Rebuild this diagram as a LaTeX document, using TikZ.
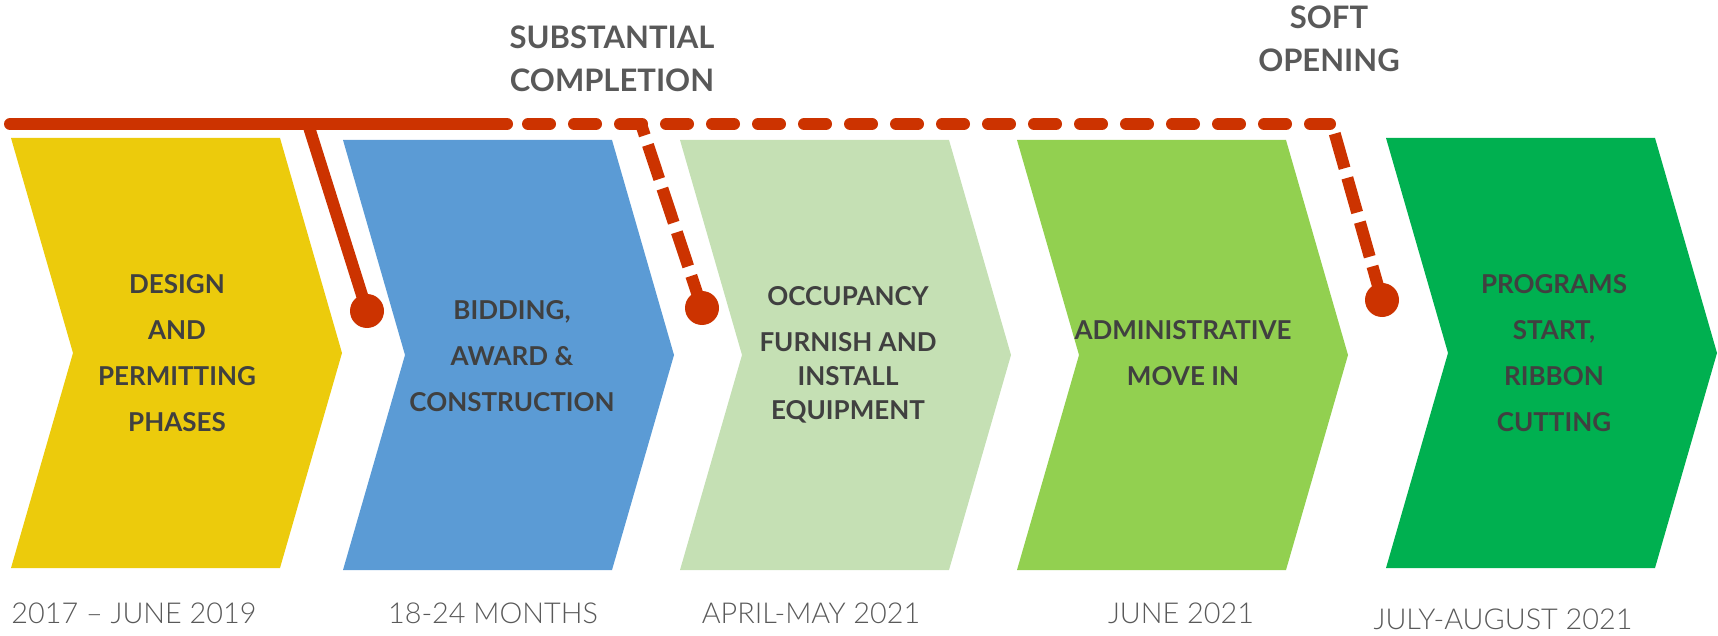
\documentclass[tikz,border=0pt]{standalone}
\usepackage{fontspec}
\setmainfont{Lato}
\newfontfamily\lightfont{Lato Light}

\definecolor{timered}{RGB}{204,51,0}
\definecolor{phaseyellow}{RGB}{236,203,12}
\definecolor{phaseblue}{RGB}{91,155,213}
\definecolor{phasemint}{RGB}{197,224,180}
\definecolor{phaselime}{RGB}{146,208,80}
\definecolor{phasegreen}{RGB}{0,176,80}
\definecolor{boxtext}{RGB}{64,64,64}
\definecolor{labeltext}{RGB}{89,89,89}

\begin{document}
\begin{tikzpicture}[x=0.5pt, y=-0.5pt,
    line/.style={timered, line width=6pt},
    dashline/.style={line, line cap=round, dash pattern=on 11pt off 12pt},
    drop/.style={line, dash pattern=on 18pt off 5pt},
    dot/.style={circle, fill=timered, inner sep=0pt, minimum size=17pt},
    phase/.style={text=boxtext, align=center, font=\bfseries\fontsize{13}{23}\selectfont},
    milestone/.style={text=labeltext, align=center, font=\bfseries\fontsize{15.5}{21.5}\selectfont},
    when/.style={text=labeltext, font=\lightfont\fontsize{14.4}{18}\selectfont}]
\useasboundingbox (0,0) rectangle (1718,636);

\foreach \x/\y/\c in {11/138/phaseyellow, 343/140/phaseblue, 680/140/phasemint,
                      1017/140/phaselime, 1386/138/phasegreen}
  \fill[\c] (\x,\y) -- ++(269,0) -- ++(62,215) -- ++(-62,215) -- ++(-269,0) -- ++(62,-215) -- cycle;

\node[phase] (design) at (177,353) {DESIGN\\AND\\PERMITTING\\PHASES};
\node[phase] (bidding) at (512,356) {BIDDING,\\AWARD \&\\CONSTRUCTION};
\node[phase, font=\bfseries\fontsize{13}{17}\selectfont] (occupancy) at (848,355)
  {OCCUPANCY\\[6pt]FURNISH AND\\INSTALL\\EQUIPMENT};
\node[phase] (movein) at (1183,353) {ADMINISTRATIVE\\MOVE IN};
\node[phase] (programs) at (1554,353) {PROGRAMS\\START,\\RIBBON\\CUTTING};

\node[milestone] (substantial) at (612,59) {SUBSTANTIAL\\COMPLETION};
\node[milestone] (soft) at (1329,39) {SOFT\\OPENING};

\node[when] (design date) at (134,613) {2017 – JUNE 2019};
\node[when] (bidding date) at (493,613) {18-24 MONTHS};
\node[when] (occupancy date) at (811,613) {APRIL-MAY 2021};
\node[when] (movein date) at (1181,613) {JUNE 2021};
\node[when] (programs date) at (1503,619) {JULY-AUGUST 2021};

% timeline and the drops to each milestone
\coordinate (start) at (10,124);
\coordinate (solid end) at (507,124);
\coordinate (dash start) at (528,124);
\coordinate (end) at (1330,124);
\coordinate (drop1) at (308,124);
\coordinate (drop2) at (641,124);
\coordinate (drop3) at (1332,124);
\node[dot] (d1) at (367,311) {};
\node[dot] (d2) at (702,308) {};
\node[dot] (d3) at (1382,300) {};

\draw[line, line cap=round] (start) -- (solid end);
\draw[dashline] (dash start) -- (end);
\draw[line] (drop1) -- (d1.center);
\draw[drop, dash phase=12pt] (drop2) -- (d2.center);
\draw[drop, dash phase=18pt] (drop3) -- (d3.center);
\end{tikzpicture}
\end{document}
